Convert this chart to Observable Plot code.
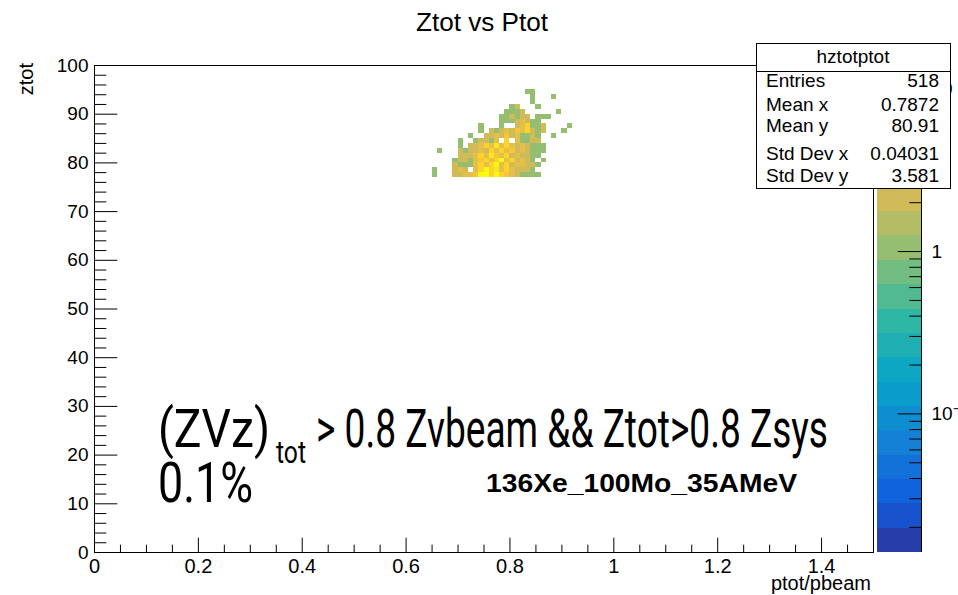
<!DOCTYPE html>
<html><head><meta charset="utf-8">
<script src="https://cdn.jsdelivr.net/npm/d3@7"></script>
<script src="https://cdn.jsdelivr.net/npm/@observablehq/plot@0.6"></script>
<style>
body{margin:0;background:#fff;}
#wrap{position:relative;width:958px;height:595px;overflow:hidden;background:#fff;}
#wrap > svg{position:absolute;left:0;top:0;}
</style></head><body><div id="wrap"></div>
<script>
// ---------- data ----------
const title = "Ztot vs Ptot";
const xTitle = "ptot/pbeam";
const yTitle = "ztot";
const ptotBins = [0.64,0.65,0.66,0.67,0.68,0.69,0.70,0.71,0.72,0.73,0.74,0.75,0.76,0.77,0.78,0.79,0.80,0.81,0.82,0.83,0.84,0.85,0.86,0.87,0.88,0.89,0.90,0.91,0.92];
const ptotBinWidth = 0.01;
const ztotBins = [77,78,79,80,81,82,83,84,85,86,87,88,89,90,91,92,93,94];
const ztotBinWidth = 1;
const counts = [
  [0,1,0,0,0,2,2,3,3,4,10,13,5,11,7,4,3,2,1,1,1,1,0,0,0,0,0,0,0],
  [0,1,0,0,0,2,3,2,0,3,5,12,6,9,3,5,3,2,2,2,1,0,0,0,0,0,0,0,0],
  [0,0,0,0,0,2,1,1,1,3,5,3,7,10,3,5,2,3,3,2,2,1,0,0,0,0,0,0,0],
  [0,0,0,0,0,1,2,2,1,3,4,7,3,5,11,3,5,2,3,2,1,0,1,0,0,0,0,0,0],
  [0,0,0,0,0,0,2,2,2,3,5,3,8,4,3,6,2,3,2,2,1,1,0,0,0,0,0,0,0],
  [0,0,1,0,0,0,2,1,2,2,3,2,5,3,6,3,4,2,3,2,1,1,1,0,0,0,0,0,0],
  [0,0,0,0,0,0,1,0,2,2,3,5,3,9,3,5,3,2,3,2,1,1,1,0,0,0,0,0,0],
  [0,0,0,0,0,0,1,0,0,1,2,2,1,3,0,7,0,3,1,1,2,2,0,0,0,0,0,0,0],
  [0,0,0,0,0,0,0,0,1,0,0,2,2,3,2,4,2,3,1,1,2,1,0,0,1,0,0,0,0],
  [0,0,0,0,0,0,0,0,0,0,1,0,2,1,2,3,2,4,3,7,2,1,2,0,0,0,1,0,0],
  [0,0,0,0,0,0,0,0,0,0,1,0,0,0,1,0,0,2,3,7,1,1,2,0,0,0,0,1,0],
  [0,0,0,0,0,0,0,0,0,0,0,0,0,0,1,1,1,2,3,2,1,1,0,0,0,0,0,0,0],
  [0,0,0,0,0,0,0,0,0,0,0,0,0,0,1,1,2,1,2,2,0,1,1,1,0,0,0,0,0],
  [0,0,0,0,0,0,0,0,0,0,0,0,0,0,0,1,1,1,2,0,0,0,0,0,0,1,0,0,0],
  [0,0,0,0,0,0,0,0,0,0,0,0,0,0,0,0,1,2,0,0,0,1,0,0,0,0,0,0,0],
  [0,0,0,0,0,0,0,0,0,0,0,0,0,0,0,0,0,0,0,0,1,0,0,0,0,0,0,0,0],
  [0,0,0,0,0,0,0,0,0,0,0,0,0,0,0,0,0,0,0,0,1,0,0,0,1,0,0,0,0],
  [0,0,0,0,0,0,0,0,0,0,0,0,0,0,0,0,0,0,0,1,1,0,0,0,0,0,0,0,0]
];
const xDomain = [0, 1.5];
const yDomain = [0, 100];
const xTicks = [0,0.2,0.4,0.6,0.8,1,1.2,1.4];
const xMinorTicks = [0.05,0.1,0.15,0.25,0.3,0.35,0.45,0.5,0.55,0.65,0.7,0.75,0.85,0.9,0.95,1.05,1.1,1.15,1.25,1.3,1.35,1.45];
const yTicks = [0,10,20,30,40,50,60,70,80,90,100];
const yMinorTicks = [2,4,6,8,12,14,16,18,22,24,26,28,32,34,36,38,42,44,46,48,52,54,56,58,62,64,66,68,72,74,76,78,82,84,86,88,92,94,96,98];
const zMin = 0.014, zMax = 14, nContours = 20;
const zTicks = [0.1, 1, 10];
const zTickLabels = ["10\u207B\u00B9", "1", "10"];
const zMinorTicks = [0.02,0.03,0.04,0.05,0.06,0.07,0.08,0.09,0.2,0.3,0.4,0.5,0.6,0.7,0.8,0.9,2,3,4,5,6,7,8,9];
const statsName = "hztotptot";
const statsLabels = ["Entries","Mean x","Mean y","Std Dev x","Std Dev y"];
const statsValues = ["518","0.7872","80.91","0.04031","3.581"];
const cutLine1a = "(ZVz)";
const cutLine1sub = "tot";
const cutLine1b = "> 0.8 Zvbeam && Ztot>0.8 Zsys";
const cutLine2 = "0.1%";
const systemLabel = "136Xe_100Mo_35AMeV";

// ---------- palette (ROOT kBird) ----------
const bStops = [0.0,0.125,0.25,0.375,0.5,0.625,0.75,0.875,1.0];
const bR = [0.2082,0.0592,0.0780,0.0232,0.1802,0.5301,0.8186,0.9956,0.9764];
const bG = [0.1664,0.3599,0.5041,0.6419,0.7178,0.7492,0.7328,0.7862,0.9832];
const bB = [0.5293,0.8684,0.8385,0.7914,0.6425,0.4662,0.3499,0.1968,0.0539];
function bird(t){
  t = Math.max(0, Math.min(1, t));
  let i = 0; while (i < bStops.length - 2 && t > bStops[i+1]) i++;
  const f = (t - bStops[i]) / (bStops[i+1] - bStops[i]);
  const c = a => Math.round(255 * (a[i] + f * (a[i+1] - a[i])));
  return `rgb(${c(bR)},${c(bG)},${c(bB)})`;
}
const levels = d3.range(nContours + 1).map(i => zMin * Math.pow(zMax / zMin, i / nContours));
const bandColors = d3.range(nContours).map(i => bird(Math.floor((i + 0.99) * 255 / nContours) / 254));
const colorScale = {type: "threshold", domain: levels.slice(1, -1), range: bandColors};
const bands = d3.range(nContours).map(i => ({lo: levels[i], hi: levels[i+1], mid: Math.sqrt(levels[i]*levels[i+1])}));

const cells = [];
ztotBins.forEach((z, r) => ptotBins.forEach((p, c) => {
  const n = counts[r][c];
  if (n > 0) cells.push({p, z, n});
}));

// ---------- layout ----------
const W = 958, H = 595;
const mL = 94, mR = 85, mT = 65, mB = 43;
const pxX = (xDomain[1] - xDomain[0]) / (W - mL - mR);
const pxY = (yDomain[1] - yDomain[0]) / (H - mT - mB);
const font = "'Liberation Sans', Arial, Helvetica, sans-serif";

const main = Plot.plot({
  width: W, height: H, marginLeft: mL, marginRight: mR, marginTop: mT, marginBottom: mB,
  x: {domain: xDomain, label: null},
  y: {domain: yDomain, label: null},
  color: colorScale,
  style: {fontFamily: font, fontSize: "19px", color: "#000", background: "transparent", overflow: "visible"},
  marks: [
    Plot.rect(cells, {x1: "p", x2: d => d.p + ptotBinWidth, y1: "z", y2: d => d.z + ztotBinWidth, fill: "n", shapeRendering: "crispEdges"}),
    Plot.ruleY(yMinorTicks, {x1: xDomain[0], x2: xDomain[0] + 12.3 * pxX, stroke: "#000"}),
    Plot.ruleY(yTicks, {x1: xDomain[0], x2: xDomain[0] + 23.3 * pxX, stroke: "#000"}),
    Plot.ruleX(xMinorTicks, {y1: yDomain[0], y2: yDomain[0] + 7.3 * pxY, stroke: "#000"}),
    Plot.ruleX(xTicks, {y1: yDomain[0], y2: yDomain[0] + 14.3 * pxY, stroke: "#000"}),
    Plot.frame({stroke: "#000"}),
    Plot.axisX(xTicks, {tickSize: 0, tickPadding: 6, fontSize: 20, tickFormat: d => String(d), label: null}),
    Plot.axisY(yTicks, {tickSize: 0, tickPadding: 6, fontSize: 19, tickFormat: d => String(d), label: null})
  ]
});

const cbW = 44;
const colorbar = Plot.plot({
  width: W, height: H, marginLeft: 877, marginRight: W - 877 - cbW, marginTop: mT, marginBottom: mB,
  x: {domain: [0, 1], axis: null},
  y: {type: "log", domain: [zMin, zMax], axis: null},
  color: colorScale,
  style: {fontFamily: font, fontSize: "19px", color: "#000", background: "transparent", overflow: "visible"},
  marks: [
    Plot.rect(bands, {x1: 0, x2: 1, y1: "lo", y2: "hi", fill: "mid", shapeRendering: "crispEdges"}),
    Plot.ruleX([1], {stroke: "#000"}),
    Plot.ruleY(zMinorTicks, {x1: 1 - 11.7 / cbW, x2: 1, stroke: "#000"}),
    Plot.ruleY(zTicks, {x1: 1 - 23.3 / cbW, x2: 1, stroke: "#000"}),
    Plot.text(zTicks, {x: 1, y: d => d, text: (d, i) => zTickLabels[i], dx: 10, textAnchor: "start", fontSize: 19, fill: "#000"})
  ]
});

// ---------- annotations ----------
const ann = d3.create("svg").attr("width", W).attr("height", H).attr("font-family", font).attr("fill", "#000");
ann.append("text").attr("x", 482).attr("y", 31).attr("text-anchor", "middle").attr("font-size", 25)
  .attr("textLength", 132).attr("lengthAdjust", "spacingAndGlyphs").text(title);
ann.append("text").attr("x", 871).attr("y", 590).attr("text-anchor", "end").attr("font-size", 20).text(xTitle);
ann.append("text").attr("transform", "translate(33,63) rotate(-90)").attr("text-anchor", "end").attr("font-size", 20).text(yTitle);

const big = "Roboto, 'Liberation Sans', sans-serif";
const addFit = (str, x, y, len, size, fam, weight) => ann.append("text")
  .attr("x", x).attr("y", y).attr("font-size", size).attr("font-family", fam).attr("font-weight", weight || 400)
  .attr("textLength", len).attr("lengthAdjust", "spacingAndGlyphs").text(str);
addFit(cutLine1a, 158, 447, 112, 54, big, 400);
addFit(cutLine1sub, 276, 463, 30, 32, big, 400);
addFit(cutLine1b, 316, 447, 512, 54, big, 400);
addFit(cutLine2, 158, 502, 95, 56, big, 400);
addFit(systemLabel, 486, 492, 311, 26, font, 700);

// stats box
const sb = ann.append("g");
sb.append("rect").attr("x", 756.5).attr("y", 43.5).attr("width", 194).attr("height", 145).attr("fill", "#fff").attr("stroke", "#000");
sb.append("line").attr("x1", 756.5).attr("x2", 950.5).attr("y1", 71.5).attr("y2", 71.5).attr("stroke", "#000");
sb.append("text").attr("x", 853).attr("y", 63).attr("text-anchor", "middle").attr("font-size", 19).text(statsName);
const rowY = [87, 111, 132, 160, 182];
statsLabels.forEach((l, i) => {
  sb.append("text").attr("x", 766).attr("y", rowY[i]).attr("font-size", 19).text(l);
  sb.append("text").attr("x", 939).attr("y", rowY[i]).attr("text-anchor", "end").attr("font-size", 19).text(statsValues[i]);
});

const wrap = document.getElementById("wrap");
wrap.append(main, colorbar, ann.node());
</script></body></html>
